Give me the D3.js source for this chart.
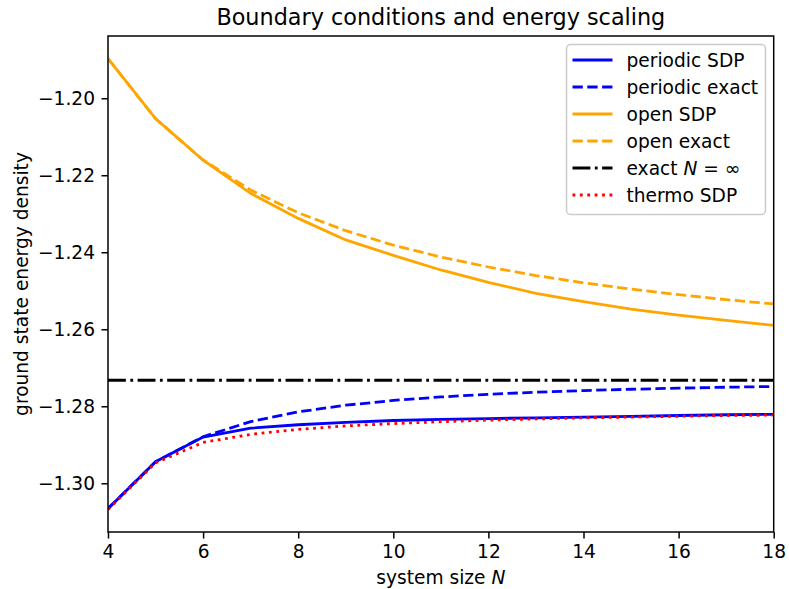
<!DOCTYPE html>
<html>
<head>
<meta charset="utf-8">
<script src="https://cdn.jsdelivr.net/npm/d3@7"></script>
<style>
  body { margin: 0; background: #fff; }
  text { font-family: "DejaVu Sans", sans-serif; }
</style>
</head>
<body>
<div class="vis-chart"></div>
<script>
// system sizes
const sizes = [4, 5, 6, 7, 8, 9, 10, 11, 12, 13, 14, 15, 16, 17, 18];

// ground state energy density
const periodicSDP = [-1.3066, -1.2944, -1.2880, -1.2857, -1.2848, -1.2842, -1.2837, -1.2834, -1.2832, -1.2830, -1.2828, -1.2826, -1.2824, -1.2822, -1.2821];
const periodicExact = [-1.30656, -1.29443, -1.28790, -1.28399, -1.28146, -1.27973, -1.27849, -1.27758, -1.27689, -1.27634, -1.27592, -1.27558, -1.27529, -1.27506, -1.27486];
const openSDP = [-1.1897, -1.2053, -1.2161, -1.2247, -1.2312, -1.2368, -1.2408, -1.2446, -1.2478, -1.2507, -1.2528, -1.2548, -1.2563, -1.2577, -1.2590];
const openExact = [-1.18969, -1.20534, -1.21604, -1.22383, -1.22975, -1.23440, -1.23815, -1.24124, -1.24383, -1.24604, -1.24793, -1.24958, -1.25102, -1.25231, -1.25343];
const exactInf = -1.27324;
const thermoSDP = [-1.3068, -1.2947, -1.2894, -1.2873, -1.2860, -1.2851, -1.2845, -1.2840, -1.2836, -1.2833, -1.2830, -1.2828, -1.2826, -1.2824, -1.2823];

const xTicks = [4, 6, 8, 10, 12, 14, 16, 18];
const yTicks = [-1.30, -1.28, -1.26, -1.24, -1.22, -1.20];

const width = 789;
const height = 589;
const margin = { top: 36, right: 15, bottom: 57, left: 108 };
const px = 134 / 72; // points -> pixels

const svg = d3
  .select(".vis-chart")
  .append("svg")
  .attr("width", width)
  .attr("height", height);

const x = d3
  .scaleLinear()
  .domain([4, 18])
  .range([margin.left, width - margin.right - 0.3]);

// matplotlib style 5% padding on the data range
const allY = [...periodicSDP, ...periodicExact, ...openSDP, ...openExact, ...thermoSDP, exactInf];
const yMin = d3.min(allY);
const yMax = d3.max(allY);
const pad = (yMax - yMin) * 0.05;
const y = d3
  .scaleLinear()
  .domain([yMin - pad, yMax + pad])
  .range([height - margin.bottom, margin.top]);

const lw = 1.5 * px;
const series = [
  { name: "periodic SDP", values: periodicSDP, color: "#0000ff", dash: null },
  { name: "periodic exact", values: periodicExact, color: "#0000ff", dash: [3.7 * lw, 1.6 * lw] },
  { name: "open SDP", values: openSDP, color: "#ffa500", dash: null },
  { name: "open exact", values: openExact, color: "#ffa500", dash: [3.7 * lw, 1.6 * lw] },
  { name: "exact", values: sizes.map(() => exactInf), color: "#000000", dash: [6.4 * lw, 1.6 * lw, 1 * lw, 1.6 * lw] },
  { name: "thermo SDP", values: thermoSDP, color: "#ff0000", dash: [1 * lw, 1.65 * lw] },
];

const line = d3
  .line()
  .x((d, i) => x(sizes[i]))
  .y((d) => y(d));

svg
  .append("defs")
  .append("clipPath")
  .attr("id", "plotclip")
  .append("rect")
  .attr("x", x.range()[0])
  .attr("y", margin.top)
  .attr("width", x.range()[1] - x.range()[0])
  .attr("height", height - margin.bottom - margin.top);

const plot = svg.append("g").attr("clip-path", "url(#plotclip)");
plot
  .selectAll("path")
  .data(series)
  .enter()
  .append("path")
  .attr("d", (d) => line(d.values))
  .attr("fill", "none")
  .attr("stroke", (d) => d.color)
  .attr("stroke-width", lw)
  .attr("stroke-dasharray", (d) => (d.dash ? d.dash.join(",") : null));

// axes
const xAxis = d3
  .axisBottom(x)
  .tickValues(xTicks)
  .tickSize(3.5 * px)
  .tickPadding(3.5 * px)
  .tickFormat(d3.format("d"));
const yAxis = d3
  .axisLeft(y)
  .tickValues(yTicks)
  .tickSize(3.5 * px)
  .tickPadding(3.5 * px)
  .tickFormat((d) => d3.format(".2f")(d).replace("-", "\u2212"));

const gx = svg
  .append("g")
  .attr("transform", `translate(0,${height - margin.bottom})`)
  .call(xAxis);
const gy = svg
  .append("g")
  .attr("transform", `translate(${margin.left},0)`)
  .call(yAxis);
[gx, gy].forEach((g) => {
  g.select(".domain").remove();
  g.selectAll("line").attr("stroke", "#000").attr("stroke-width", 0.8 * px);
  g.selectAll("text")
    .attr("fill", "#000")
    .style("font-size", 10 * px + "px")
    .style("font-family", "DejaVu Sans");
});

// frame
svg
  .append("rect")
  .attr("x", x.range()[0])
  .attr("y", margin.top)
  .attr("width", x.range()[1] - x.range()[0])
  .attr("height", height - margin.bottom - margin.top)
  .attr("fill", "none")
  .attr("stroke", "#000")
  .attr("stroke-width", 0.8 * px);

// title and labels
svg
  .append("text")
  .attr("x", (x.range()[0] + x.range()[1]) / 2)
  .attr("y", 25)
  .attr("text-anchor", "middle")
  .style("font-size", 12 * px + "px")
  .text("Boundary conditions and energy scaling");

const xl = svg
  .append("text")
  .attr("x", (x.range()[0] + x.range()[1]) / 2)
  .attr("y", 584)
  .attr("text-anchor", "middle")
  .style("font-size", 10 * px + "px");
xl.append("tspan").text("system size ");
xl.append("tspan").attr("font-style", "italic").text("N");

svg
  .append("text")
  .attr("transform", `translate(28,${(margin.top + height - margin.bottom) / 2}) rotate(-90)`)
  .attr("text-anchor", "middle")
  .style("font-size", 10 * px + "px")
  .text("ground state energy density");

// legend
const lg = svg.append("g").attr("transform", "translate(566.5,44.5)");
lg.append("rect")
  .attr("width", 199)
  .attr("height", 170)
  .attr("rx", 4)
  .attr("fill", "#fff")
  .attr("fill-opacity", 0.8)
  .attr("stroke", "#cccccc")
  .attr("stroke-width", 1.5);

const rows = lg
  .selectAll(".row")
  .data(series)
  .enter()
  .append("g")
  .attr("class", "row")
  .attr("transform", (d, i) => `translate(0,${15.5 + i * 27})`);
rows
  .append("line")
  .attr("x1", 6)
  .attr("x2", 46)
  .attr("stroke", (d) => d.color)
  .attr("stroke-width", lw)
  .attr("stroke-dasharray", (d) => (d.dash ? d.dash.join(",") : null));
const labels = rows
  .append("text")
  .attr("x", 60)
  .attr("dy", "0.36em")
  .style("font-size", 10 * px + "px");
labels.each(function (d) {
  const t = d3.select(this);
  if (d.name === "exact") {
    t.append("tspan").text("exact ");
    t.append("tspan").attr("font-style", "italic").text("N");
    t.append("tspan").text(" = \u221e");
  } else {
    t.text(d.name);
  }
});
</script>
</body>
</html>
